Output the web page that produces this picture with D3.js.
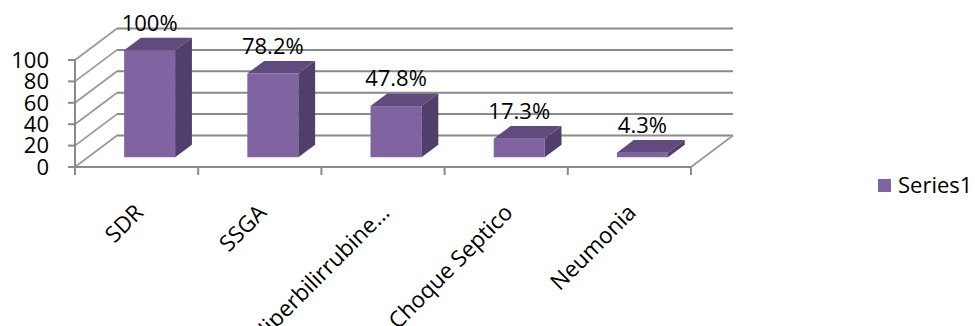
<!DOCTYPE html>
<html>
<head>
<meta charset="utf-8">
<script src="https://cdn.jsdelivr.net/npm/d3@7"></script>
<style>
  body { margin: 0; background: #fff; }
  text { font-family: "Open Sans", sans-serif; fill: #000; }
</style>
</head>
<body>
<div id="chart"></div>
<script>
const categories = ["SDR", "SSGA", "Hiperbilirrubine...", "Choque Septico", "Neumonia"];
const values = [100, 78.2, 47.8, 17.3, 4.3];
const valueLabels = ["100%", "78.2%", "47.8%", "17.3%", "4.3%"];
const yTicks = [0, 20, 40, 60, 80, 100];
const seriesName = "Series1";

const width = 975, height = 326;
const depth = { dx: 42, dy: -31.5 };      // full floor depth
const barFront = 0.31, barBack = 0.71;    // bar position inside depth
const barRatio = 0.414;                   // bar width / band

const svg = d3.select("#chart").append("svg")
    .attr("width", width)
    .attr("height", height);

const x = d3.scaleBand().domain(categories).range([75, 691]).padding(0);
const y = d3.scaleLinear().domain([0, 100]).range([167, 60]);

const gridColor = "#8a8a8a";

// walls: left side diagonals + back gridlines
const walls = svg.append("g");
yTicks.forEach(t => {
    const yf = y(t), yb = y(t) + depth.dy;
    walls.append("line")
        .attr("x1", x.range()[0]).attr("y1", yf)
        .attr("x2", x.range()[0] + depth.dx).attr("y2", yb)
        .attr("stroke", "#9a9a9a").attr("stroke-width", 1.8);
    walls.append("line")
        .attr("x1", x.range()[0] + depth.dx).attr("y1", yb)
        .attr("x2", x.range()[1] + depth.dx).attr("y2", yb)
        .attr("stroke", gridColor).attr("stroke-width", 2);
});
// floor right edge
walls.append("line")
    .attr("x1", x.range()[1]).attr("y1", y(0))
    .attr("x2", x.range()[1] + depth.dx).attr("y2", y(0) + depth.dy)
    .attr("stroke", "#9a9a9a").attr("stroke-width", 1.8);

// bars
const bw = x.bandwidth() * barRatio;
const bars = svg.append("g");
categories.forEach((c, i) => {
    const cx = x(c) + x.bandwidth() / 2 + depth.dx * barFront;
    const x0 = cx - bw / 2, x1 = cx + bw / 2;
    const yb = y(0) + depth.dy * barFront;
    const yt = y(values[i]) + depth.dy * barFront;
    const ddx = depth.dx * (barBack - barFront);
    const ddy = depth.dy * (barBack - barFront);
    const g = bars.append("g");
    g.append("rect")
        .attr("x", x0).attr("y", yt)
        .attr("width", bw).attr("height", yb - yt)
        .attr("fill", "#8064a2");
    g.append("path")
        .attr("d", `M${x0},${yt}L${x0 + ddx},${yt + ddy}L${x1 + ddx},${yt + ddy}L${x1},${yt}Z`)
        .attr("fill", "#604a7e");
    g.append("path")
        .attr("d", `M${x1},${yt}L${x1 + ddx},${yt + ddy}L${x1 + ddx},${yb + ddy}L${x1},${yb}Z`)
        .attr("fill", "#503e6b");
    g.append("text")
        .attr("x", cx)
        .attr("y", yt + ddy - 7)
        .attr("text-anchor", "middle")
        .attr("font-size", "22px")
        .text(valueLabels[i]);
});

// front axes
const axes = svg.append("g").attr("stroke", gridColor).attr("stroke-width", 2);
axes.append("line")
    .attr("x1", x.range()[0]).attr("y1", y(100))
    .attr("x2", x.range()[0]).attr("y2", y(0) + 8);
axes.append("line")
    .attr("x1", x.range()[0] - 7).attr("y1", y(0))
    .attr("x2", x.range()[1]).attr("y2", y(0));
yTicks.forEach(t => {
    axes.append("line")
        .attr("x1", x.range()[0] - 7).attr("y1", y(t))
        .attr("x2", x.range()[0]).attr("y2", y(t));
});
categories.forEach((c, i) => {
    axes.append("line")
        .attr("x1", x(c) + x.bandwidth()).attr("y1", y(0))
        .attr("x2", x(c) + x.bandwidth()).attr("y2", y(0) + 8);
});

// y tick labels
svg.append("g").selectAll("text")
    .data(yTicks)
    .join("text")
    .attr("x", 49)
    .attr("y", d => y(d))
    .attr("dy", "0.35em")
    .attr("text-anchor", "end")
    .attr("font-size", "22px")
    .text(d => d);

// category labels
svg.append("g").selectAll("text")
    .data(categories)
    .join("text")
    .attr("text-anchor", "end")
    .attr("font-size", "22.5px")
    .attr("transform", d => `translate(${x(d) + x.bandwidth() / 2 + 8}, 214) rotate(-45)`)
    .text(d => d);

// legend
const legend = svg.append("g").attr("transform", "translate(878, 179)");
legend.append("rect").attr("width", 13).attr("height", 13).attr("fill", "#8064a2");
legend.append("text").attr("x", 20).attr("y", 14).attr("font-size", "22px").text(seriesName);
</script>
</body>
</html>
